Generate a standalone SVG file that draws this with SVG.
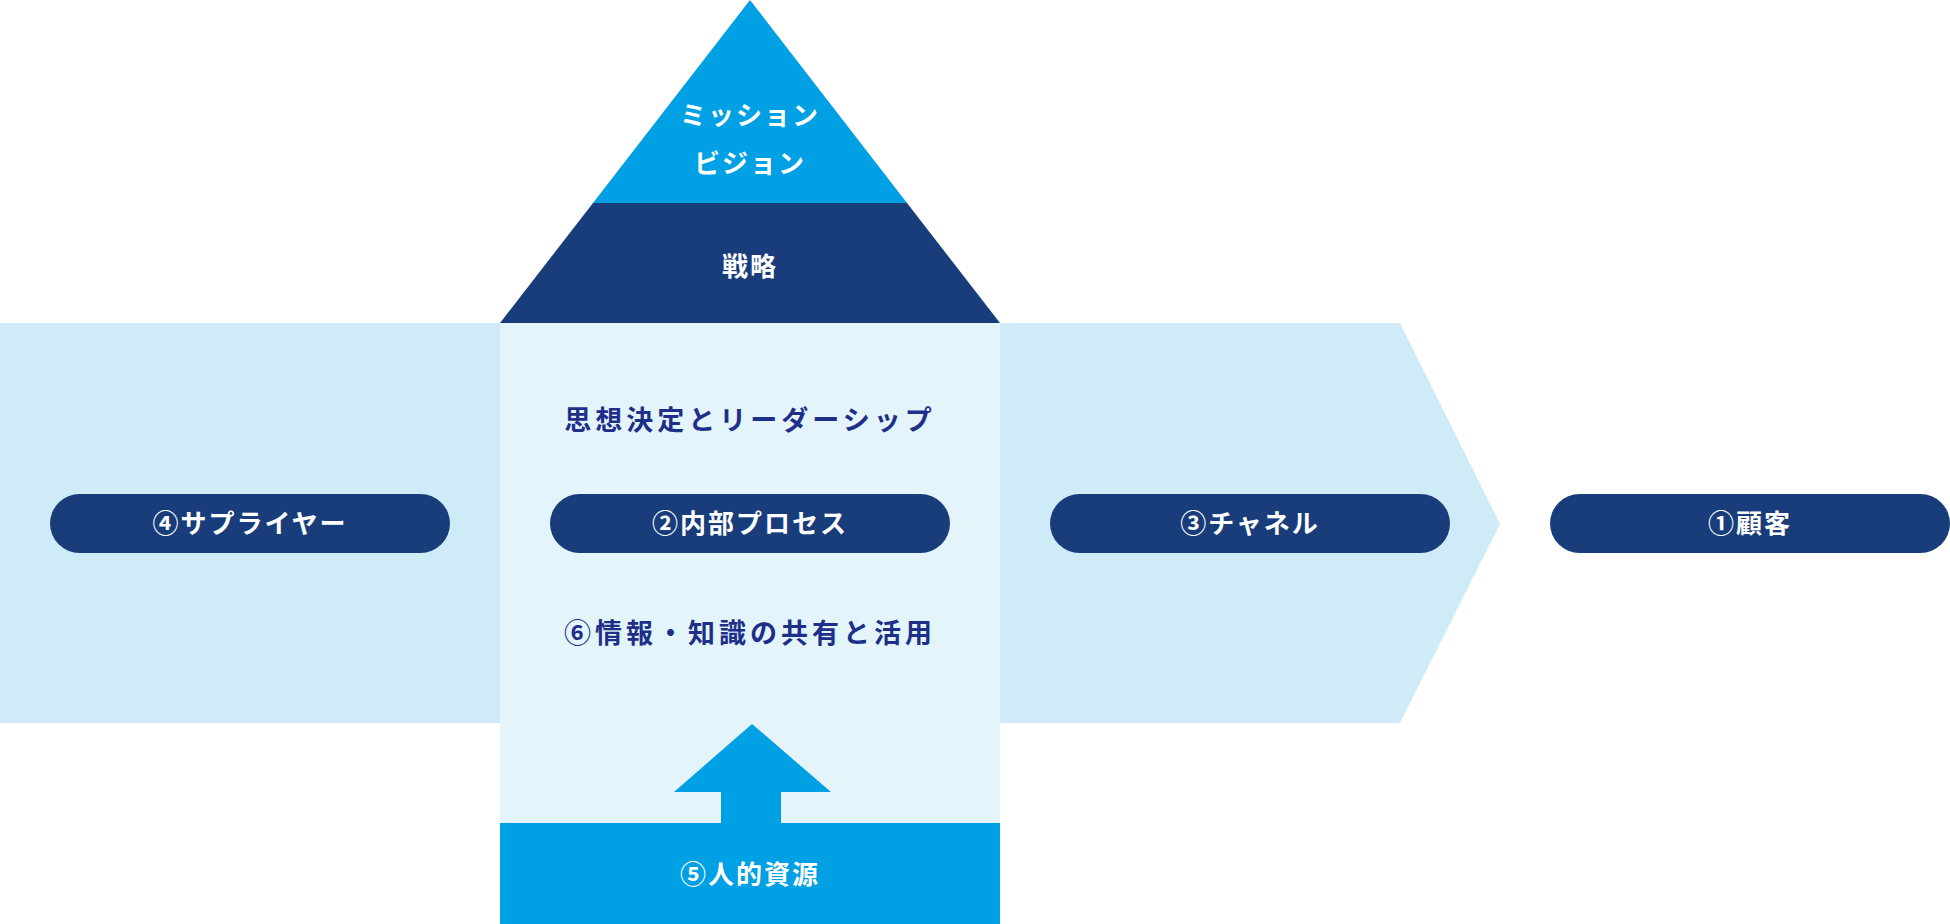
<svg xmlns="http://www.w3.org/2000/svg" width="1950" height="924" viewBox="0 0 1950 924">
<style>
.w{fill:#fff;font-family:"Noto Sans CJK JP","Noto Sans",sans-serif;font-weight:700;font-size:26px;text-anchor:middle;letter-spacing:2px}
.n{fill:#1d2f88;font-family:"Noto Sans CJK JP","Noto Sans",sans-serif;font-weight:700;font-size:27px;text-anchor:middle;letter-spacing:4px}
.pill{fill:#183d7a}
</style>
<rect width="1950" height="924" fill="#fff"/>
<g id="band-left"><rect x="0" y="323" width="500" height="400" fill="#ceebf7"/></g>
<g id="band-right"><polygon points="1000,323 1400,323 1500,524 1400,723 1000,723" fill="#ceebf7"/></g>
<g id="center"><rect x="500" y="323" width="500" height="601" fill="#e3f4fb"/>
<text class="n" x="750" y="430">思想決定とリーダーシップ</text>
<text class="n" x="750" y="643">⑥情報・知識の共有と活用</text></g>
<g id="mission"><polygon points="750,0 907,203 593,203" fill="#00a0e4"/>
<text class="w" x="750" y="125">ミッション</text><text class="w" x="750" y="173">ビジョン</text></g>
<g id="strategy"><polygon points="593,203 907,203 1000,323 500,323" fill="#183d7a"/>
<text class="w" x="750" y="276">戦略</text></g>
<g id="connectors"><polygon points="752,724 831,792 781,792 781,823 721,823 721,792 674,792" fill="#00a0e4"/></g>
<g id="human"><rect x="500" y="823" width="500" height="101" fill="#00a0e4"/>
<text class="w" x="750" y="884">⑤人的資源</text></g>
<g id="supplier"><rect class="pill" x="50" y="494" width="400" height="59" rx="29.5"/><text class="w" x="250" y="533">④サプライヤー</text></g>
<g id="process"><rect class="pill" x="550" y="494" width="400" height="59" rx="29.5"/><text class="w" x="750" y="533">②内部プロセス</text></g>
<g id="channel"><rect class="pill" x="1050" y="494" width="400" height="59" rx="29.5"/><text class="w" x="1250" y="533">③チャネル</text></g>
<g id="customer"><rect class="pill" x="1550" y="494" width="400" height="59" rx="29.5"/><text class="w" x="1750" y="533">①顧客</text></g>
</svg>
